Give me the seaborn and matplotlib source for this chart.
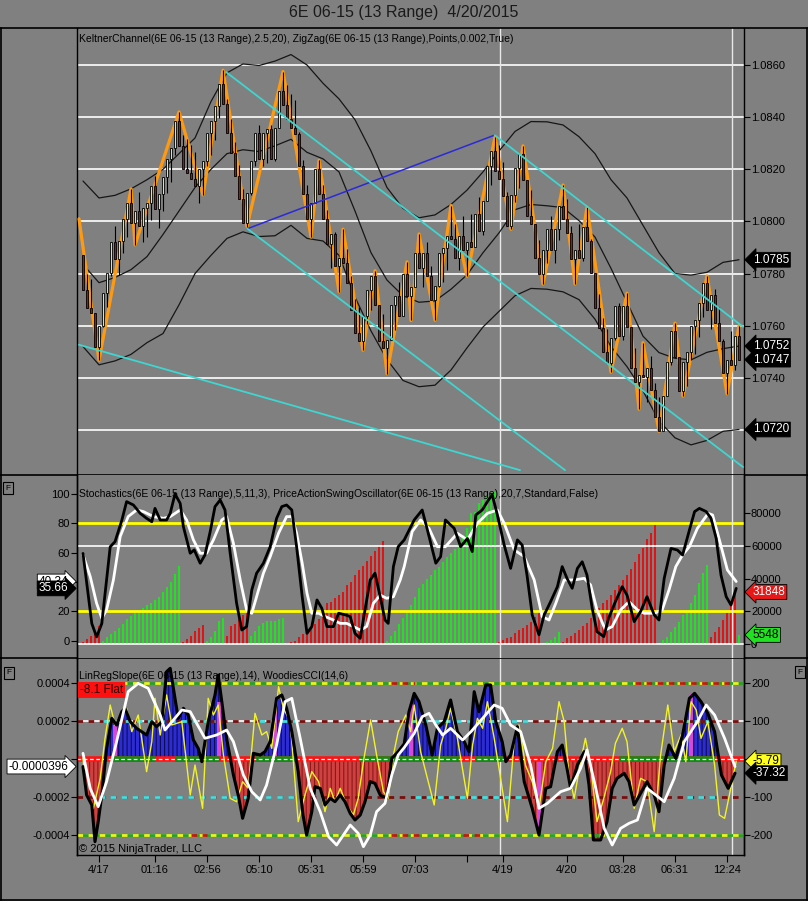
import numpy as np
import pandas as pd
import matplotlib
matplotlib.use('Agg')
import matplotlib.pyplot as plt
import seaborn as sns
from matplotlib.lines import Line2D

# ---------------- data ----------------
BASE = 1.07          # prices kept as pips above 1.0700
PIP = 0.0001
RANGE_PIPS = 13      # 13 range bars

first_open = 87.3
closes = [73.8, 66.8, 64.9, 52.0, 59.7, 72.6, 80.3, 92.0, 85.4, 92.4,
          101.0, 107.2, 99.5, 104.0, 98.2, 105.3, 107.2, 113.6, 104.6, 110.4,
          117.0, 123.8, 128.0, 138.6, 129.0, 120.0, 118.7, 116.2, 113.6, 120.0,
          123.2, 134.1, 138.6, 144.4, 152.7, 145.0, 134.1, 126.4, 117.4, 108.5,
          99.5, 111.0, 123.2, 134.1, 123.8, 134.1, 135.4, 123.8, 136.0, 150.0,
          144.5, 139.2, 136.0, 133.5, 121.3, 110.4, 100.8, 107.0, 120.0, 110.4,
          100.8, 91.5, 95.0, 83.0, 86.0, 84.0, 76.4, 66.0, 57.2, 54.0,
          63.6, 73.8, 79.0, 68.1, 54.0, 51.4, 54.6, 68.1, 71.3, 63.6,
          80.0, 71.5, 75.0, 87.9, 82.2, 87.9, 79.0, 70.0, 75.1, 87.9,
          89.9, 94.4, 93.1, 86.0, 94.4, 89.2, 92.0, 90.0, 103.0, 96.3,
          107.8, 121.3, 127.0, 119.4, 116.2, 109.7, 98.2, 110.0, 120.6, 126.0,
          116.0, 102.0, 99.0, 86.0, 80.0, 89.0, 97.0, 89.2, 97.0, 105.9,
          101.0, 95.7, 85.4, 89.0, 86.0, 98.0, 92.5, 80.2, 66.8, 59.1,
          50.1, 45.6, 55.2, 67.4, 55.9, 67.4, 59.5, 43.7, 38.6, 41.0,
          40.5, 43.7, 35.4, 25.1, 19.5, 33.0, 46.0, 58.0, 48.0, 35.0,
          46.0, 50.0, 59.7, 62.3, 68.7, 76.4, 66.1, 71.9, 61.0, 54.0,
          41.8, 46.9, 45.0, 55.9, 47.0]

zz_bars = [-1, 4, 12, 13, 24, 30, 35, 41, 50, 57, 59, 64, 65, 70, 73, 76, 81, 82, 84, 88,
           92, 96, 103, 107, 110, 115, 120, 123, 126, 132, 136, 139, 140, 144, 148, 150,
           156, 161, 164]
zz_pips = [101, 46.7, 112.5, 91, 142, 110.2, 158, 98, 157.5, 94, 123.4, 73, 97, 50.6, 81.1,
           41.6, 84.5, 62, 95.2, 62.1, 106.1, 79, 132.4, 97, 129, 76, 114, 76, 105.5, 42.2,
           72.5, 28, 53.5, 19.5, 61, 33, 79.1, 33.9, 60]

kc_bars = list(range(0, 165, 4))
kc_upper = [115.5, 109, 110, 112.5, 116, 120, 126, 132, 146, 157, 160.4, 159.8, 161.5, 164,
            160, 153, 147, 139, 127, 113, 105, 101.4, 102.5, 106.5, 112, 119, 127, 134.5,
            138.3, 138.2, 137, 132.5, 126, 116, 109, 98.5, 88, 80, 79.4, 80.5, 84.3, 85.3]
kc_mid = [83.5, 76.5, 78.5, 81.5, 86.5, 95, 104, 113, 120, 126, 127.5, 126.8, 129, 131.5,
          126.5, 124, 119, 104, 88, 77.5, 71.5, 69, 69.5, 74, 79.5, 88, 95.6, 104.5,
          106.5, 106, 105.3, 100.3, 94, 82, 69, 56, 49.7, 47.5, 46.9, 49.8, 51.2, 52.2]
kc_lower = [52, 45, 46.5, 49, 53.5, 57, 68, 80, 87, 93.5, 96, 94.2, 94.5, 98.5,
            93.5, 92.5, 87, 71, 58, 47, 39, 36.6, 37.2, 43, 51.5, 59.5, 65.5, 71.5,
            74.3, 74, 73, 70, 62.5, 52, 44.3, 35, 23.5, 17, 14.3, 16, 19.5, 20.2]

# drawn trend lines: (start bar, end bar), (start pips, end pips)
blue_bars, blue_pips = [41.1, 102.9], [97.2, 133.1]
cyan_bars = [[102.9, 165.0], [35.75, 165.0], [41.1, 120.5], [-1.0, 109.25]]
cyan_pips = [[133.1, 59.6], [157.3, 5.8], [97.2, 4.6], [52.7, 4.6]]

session_bars = [104.25, 162.25]

# stochastics (0-100)
stk_bars = [0.0, 2.2, 3.4, 4.7, 6.8, 8.0, 9.7, 10.9, 12.6, 14.3, 15.9, 17.2, 18.0, 19.3, 20.9,
            21.8, 23.0, 24.3, 25.1, 26.8, 27.8, 29.3, 30.5, 31.8, 33.0, 34.3, 35.5, 36.8, 38.4,
            39.7, 40.9, 42.2, 43.4, 45.1, 46.8, 48.4, 49.7, 50.9, 52.2, 53.4, 54.8, 56.0, 57.2,
            58.5, 59.7, 61.0, 62.6, 63.9, 65.6, 66.8, 68.0, 69.3, 70.5, 71.8, 73.0, 74.3, 75.5,
            76.3, 77.6, 78.8, 80.3, 82.8, 84.8, 86.0, 88.2, 89.4, 90.6, 92.8, 94.4, 96.1, 97.3,
            98.2, 99.8, 101.1, 102.3, 103.6, 105.3, 106.9, 108.6, 109.8, 111.0, 112.3, 114.0,
            115.3, 116.9, 118.6, 119.8, 121.0, 122.3, 123.6, 124.8, 126.0, 127.3, 128.5, 130.2,
            131.4, 133.1, 134.8, 136.0, 137.8, 139.4, 141.0, 142.8, 144.0, 145.3, 147.0, 148.6,
            149.9, 151.6, 152.9, 154.1, 155.8, 157.0, 158.3, 159.5, 160.8, 162.0, 163.3]
stk_vals = [59.5, 11.7, 2.6, 11.7, 64, 67.5, 82, 94.8, 92.5, 86.8, 83.4, 81.1, 90.2, 82.3, 82.3,
            86.8, 100, 93.6, 77.7, 59.6, 61.9, 52.8, 58.5, 74.4, 91.4, 95.9, 89.1, 59.6, 25.5,
            7.3, 9.6, 34.6, 46, 52.8, 64.1, 83.4, 91.4, 92.5, 89.1, 64.1, 30, 5, 9.6,
            27.8, 22.1, 9.6, 9.6, 18.7, 17.6, 16.4, 5, 1.6, 21, 41.4, 46, 30, 14.1,
            11.8, 50.5, 64.1, 68.7, 82.3, 89.1, 76.6, 52.8, 57.3, 82.3, 76.6, 64.1, 69.7, 60.7,
            85.7, 89.1, 94.8, 99.5, 85.7, 65.2, 49.3, 68.7, 65.2, 44.7, 17.6, 4,
            17.6, 26.6, 36.8, 50.5, 42.5, 35.7, 49.3, 53.8, 44.7, 22.1, 6.2, 2.8,
            15.3, 26.6, 36.8, 31.1, 13, 19.9, 30, 17.6, 14.1, 42.5, 62.9, 61.8,
            58.4, 75.4, 88, 90.2, 88, 83.4, 69.7, 44.7, 30, 24.3, 35.66]
std_bars = [0.0, 1.8, 3.4, 4.7, 5.9, 7.6, 9.3, 11.3, 13.4, 15.1, 17.6, 20.1, 21.8, 24.3, 25.9,
            27.6, 29.3, 30.9, 32.6, 34.7, 35.9, 37.6, 39.3, 40.9, 42.2, 43.4, 45.1, 46.8, 48.9,
            50.9, 52.2, 53.4, 54.8, 56.0, 57.2, 58.9, 60.6, 62.6, 64.3, 65.9, 67.6, 69.3, 70.9,
            72.6, 74.3, 75.9, 77.6, 79.3, 80.3, 82.3, 84.4, 86.5, 88.6, 90.6, 93.6, 96.1, 98.6,
            101.1, 103.6, 105.3, 107.8, 110.3, 112.8, 114.8, 116.5, 118.2, 120.3, 122.8, 125.3,
            126.9, 128.5, 130.6, 132.3, 134.4, 136.5, 138.6, 140.3, 142.8, 144.8, 146.5, 148.2,
            149.9, 151.6, 153.6, 156.3, 157.4, 159.1, 161.1, 163.3]
std_vals = [58.5, 43.8, 25.5, 15.3, 21, 41.4, 71, 84.6, 89.1, 88, 84.6, 83.4, 84.6, 89.1, 82.3,
            68.7, 59.6, 59.6, 68.7, 82.3, 84.6, 66.4, 41.4, 21, 18.7, 30, 46, 57.3, 73.3,
            84.6, 84.6, 73.3, 52.8, 32.3, 18.7, 18.7, 16.4, 14.1, 11.8, 11.8, 9.6, 7.3, 9.6,
            25.5, 31.1, 28.9, 30, 41.4, 50.5, 74.4, 82.3, 76.6, 64.1, 64.1, 73.2, 68.7, 80,
            86.8, 89.1, 80, 61.9, 57.3, 41.4, 16.4, 14.1, 25.5, 41.4, 41.4, 42.5,
            38, 21, 7.3, 9.6, 21, 26.6, 21, 18.7, 18.7, 21, 34.6, 50.5,
            58.5, 64.1, 76.6, 86.8, 85.7, 68.7, 48.2, 40.34]

# price action swing oscillator, thousands per bar (negative = down swing)
paso_k = [-1, -3, -5, -7, -11,
          2, 4, 6, 8, 10, 12, 15, 17, 19, 21, 22, 24, 25, 27, 29, 32, 35, 38, 43, 48,
          -1.5, -3, -5, -8, -9.5, -11.5,
          2, 4, 8, 14, 16,
          -5, -11, -12, -15, -18, -20,
          5, 8, 11, 13, 14, 14, 14, 15, 16,
          -0.5, -1, -2, -4, -6, -8, -10, -12, -15, -18, -25, -26, -28, -30, -32, -36, -38,
          -42, -45, -48, -51, -54, -57, -60, -63,
          2, 5, 8, 12, 16, 19, 24, 29, 34, 37, 40, 42, 45, 47, 50, 53, 56, 58, 63, 67, 71,
          80, 81, 86, 88, 91, 92, 93,
          -1.4, -2.4, -3.5, -4.5, -6.6, -8.6, -9.6, -11.7, -13.7, -16.8, -18.9,
          0.5, 1.4, 2.4, 4.5, 7.6,
          -1.5, -3.5, -5, -6.5, -8.5, -11, -13, -16, -19, -22, -25, -27, -30, -33, -36, -39,
          -42, -46, -50, -55, -59, -64, -68, -73,
          0.5, 2.4, 4.5, 7.6, 10.7, 13.7, 17.8, 20.9, 25, 30.1, 37.2, 43.4, 48.5,
          -4.5, -7.6, -10.7, -14.8, -18.9, -26, -31.848,
          5.548]

# Woodies CCI panel (CCI units, slope = cci / 5e5)
cci_bars = [0.0, 0.9, 2.2, 3.0, 3.8, 4.7, 5.9, 7.2, 8.4, 9.7, 10.5, 11.8, 13.4, 15.9, 17.2,
            18.4, 19.7, 20.9, 21.8, 22.6, 23.8, 25.1, 26.3, 27.6, 28.8, 29.7, 31.3, 33.0,
            33.8, 34.7, 35.9, 37.6, 38.8, 39.9, 41.3, 42.6, 44.3, 45.5, 46.8, 48.4, 49.7,
            50.9, 52.2, 53.8, 55.0, 55.9, 57.2, 58.0, 59.3, 60.5, 61.8, 63.0, 64.3, 65.5,
            66.8, 68.0, 69.3, 70.5, 71.8, 73.0, 74.3, 75.9, 77.2, 78.8, 80.3, 81.5, 82.8,
            84.0, 85.7, 87.3, 88.6, 90.3, 91.9, 93.6, 95.3, 96.5, 97.8, 99.0, 100.7, 101.9,
            103.2, 104.8, 105.7, 106.9, 108.6, 110.3, 112.3, 114.0, 115.7, 116.9, 118.6,
            119.8, 121.0, 121.9, 123.6, 125.3, 126.5, 127.6, 129.4, 131.0, 132.3, 133.5,
            135.3, 136.5, 137.8, 139.4, 141.0, 142.8, 144.0, 145.3, 146.5, 148.2, 149.9,
            151.6, 152.9, 154.5, 156.2, 157.9, 159.6, 161.3, 163.0]
cci_vals = [-20, -94.7, -121, -217.5, -165, -94.7, 28, 107, 89.5, 124.6, 133.4, 98.3, 80.8,
            63.2, 98.3, 85.1, 98.3, 229.8, 238.6, 186, 107, 133.4, 115.8, 50, 28, -7, 98.3,
            168.5, 221, 151, 54.4, -42, -94.7, -156, -103.5, 15, 10.5, 19.3, 45.6, 159.7,
            168.5, 133.4, 72, -33.3, -147.4, -200, -138.6, -72.8, -77.2, -121, -103.5,
            -112.3, -94.7, -112.3, -143, -160.5, -147.4, -112.3, -59.6, -64, -94.7, -103.5,
            1.8, 19.3, 40, 124.6, 172.8, 150.9, 89.5, 10.5, 80.8, 98.3, 155.3, 72, 45.6,
            19.3, 177.2, 124.6, 194.8, 194.8, 98.3, 45.6, -7, 10.5, 85.1, -59.6, -129.8,
            -200, -77.2, -72.8, 19.3, 36.8, -24.5, -77.2, -15.8, 19.3, -68.4, -213, -213,
            -164.9, -77.2, -50.9, -37.7, -59.6, -121, -90.3, -59.6, -94.7, -138.6, -15.8,
            36.8, 1.8, 63.2, 159.7, 172.8, 150.9, 120.2, 72, -42, -77.2, -37.32]
lrs_bars = [0.0, 1.8, 3.8, 5.9, 8.4, 11.3, 13.8, 16.3, 19.3, 20.5, 22.6, 24.7, 26.8, 28.4,
            30.5, 33.4, 35.9, 37.6, 40.1, 42.2, 44.3, 45.9, 48.4, 50.5, 52.2, 54.3, 56.8,
            59.3, 61.4, 63.4, 65.1, 66.8, 68.8, 70.1, 71.8, 73.4, 75.5, 77.2, 78.8, 80.3,
            82.8, 84.8, 86.5, 88.2, 89.9, 91.9, 94.9, 97.0, 99.9, 102.8, 104.8, 106.9, 109.4,
            111.9, 114.0, 116.1, 119.4, 121.9, 124.4, 126.0, 128.2, 130.3, 132.3, 134.4,
            136.5, 138.6, 141.0, 143.2, 145.3, 147.8, 150.3, 153.6, 155.8, 157.9, 160.4, 163.0]
lrs_vals = [15, -77.2, -125.4, -59.6, 45.6, 177.2, 199.1, 186, 115.8, 76.3, 102.6, 129, 124.6,
            94, 54.4, 63.2, 76.3, 45.6, -42, -86, -107.9, -68.4, 36.8, 150.9, 159.7, 54.4,
            -77.2, -138.6, -204.4, -226.3, -200, -173.7, -195.6, -230.7, -200, -138.6, -116.7,
            -42, 10.5, 30, 67.6, 111.4, 120.2, 89.5, 63.2, 80.8, 50, 72, 107, 142.1, 133.4,
            89.5, 72, -15.8, -129.8, -116.7, -86, -77.2, -24.5, 23.7, -77.2, -182.5, -226.3,
            -182.5, -169.3, -160.5, -77.2, -94.7, -112.3, -50.9, 45.6, 98.3, 142.1, 115.8,
            54.4, -19.8]
turbo_bars = [0.0, 0.9, 2.6, 4.3, 5.5, 6.8, 8.0, 9.3, 10.9, 12.2, 13.8, 15.9, 17.2, 18.0, 19.3,
              20.9, 22.2, 24.7, 26.8, 28.0, 29.9, 31.3, 32.6, 33.8, 35.1, 36.8, 38.4, 39.9,
              41.3, 43.0, 44.7, 45.9, 47.2, 48.9, 50.1, 51.8, 53.8, 55.5, 57.2, 58.9, 60.5,
              61.8, 63.0, 64.3, 65.9, 67.6, 68.8, 70.1, 71.9, 73.4, 75.1, 76.3, 77.6, 78.8,
              80.7, 81.9, 82.8, 84.4, 86.1, 87.8, 89.4, 90.7, 91.9, 93.6, 96.1, 97.4, 98.6,
              99.9, 101.1, 102.8, 104.4, 106.1, 107.8, 109.0, 110.6, 112.3, 114.0, 115.7,
              117.4, 119.0, 120.3, 121.5, 122.8, 124.4, 125.6, 126.9, 128.5, 130.2, 131.9,
              133.1, 134.8, 136.0, 137.8, 139.4, 141.0, 142.8, 144.4, 146.2, 147.8, 149.5,
              150.7, 152.0, 153.3, 154.5, 156.2, 157.9, 159.1, 160.4, 161.6, 163.3]
turbo_vals = [1.8, -94.7, -129.8, -50.9, 54.4, 142.1, 89.5, 115.8, 133.4, 72, 115.8, -33.3,
              45.6, 159.7, 63.2, 168.5, 89.5, 98.3, -94.7, -15.8, -129.8, 159.7, 115.8, 142.1,
              10.5, -103.5, -112.3, -59.6, -77.2, 120.2, 63.2, 72, 28, 190.4, 133.4, 98.3,
              -164.9, -94.7, -33.3, -59.6, -138.6, -77.2, -112.3, -77.2, -121, -147.4, -103.5,
              -7, 102.6, 10.5, -86, -103.5, 10.5, 72, 115.8, 72, 142.1, 19.3, -50.9, -121,
              36.8, 80.8, 133.4, 54.4, -103.5, 36.8, 107, 80.8, 150.9, 54.4, -50.9, -164.9,
              45.6, 89.5, -15.8, -59.6, -129.8, -7, 28, 150.9, 98.3, -42, -103.5, -7, 54.4,
              -15.8, -164.9, -103.5, -33.3, 41.2, 80.8, 45.6, -129.8, -50.9, -59.6, -191.2,
              10.5, 142.1, 19.3, 63.2, -7, 150.9, 129, 54.4, 98.3, -15.8, -147.4, -156.1,
              -94.7, -5.79]
magenta_bars = [8, 34, 48, 82, 114, 152]
magenta_vals = [90, 150, 140, 150, -190, 170]
zero_green = [(7, 18), (23, 34), (43, 53), (69, 94), (98, 105), (134, 158)]
cyan_up = [(5, 33), (44, 53), (82, 112), (150, 157)]
cyan_dn = [(4, 53), (83, 110), (151, 158)]
red_200_up = [(77, 83), (138, 163)]
red_200_dn = [(27, 31), (77, 84), (95, 100)]

tick_bars = [4, 18, 31, 44, 57, 70, 83, 96, 105, 121, 135, 148, 161]
tick_text = ['4/17', '01:16', '02:56', '05:10', '05:31', '05:59', '07:03', '',
             '4/19', '4/20', '03:28', '06:31', '12:24']

# ---------------- style ----------------
W, H = 808, 901
BG = '#808080'
UP, DN = '#c4ebbf', '#a81212'

sns.set_theme(style='ticks', rc={
    'figure.facecolor': BG, 'axes.facecolor': BG, 'savefig.facecolor': BG,
    'axes.edgecolor': 'black', 'axes.linewidth': 1.0,
    'xtick.color': 'black', 'ytick.color': 'black',
    'xtick.labelsize': 8, 'ytick.labelsize': 8, 'text.color': 'black',
    'hatch.linewidth': 0.8,
})
plt.rcParams['font.family'] = ['Liberation Sans', 'DejaVu Sans']

fig = plt.figure(figsize=(W / 100, H / 100), dpi=100)


def px_box(l, t, r, b):
    return [l / W, 1 - b / H, (r - l) / W, (b - t) / H]


ax_p = fig.add_axes(px_box(77, 28, 744, 475))
ax_s = fig.add_axes(px_box(77, 475, 744, 658))
ax_c = fig.add_axes(px_box(77, 658, 744, 855))
XL = (-1.5, 165.25)

for ax in (ax_p, ax_s, ax_c):
    ax.set_xlim(*XL)
    ax.spines['top'].set_visible(False)
    ax.spines['bottom'].set_visible(False)

# frame lines across the whole window
for yy in (27.5, 475, 658, 899.5):
    fig.add_artist(Line2D([0, 1], [1 - yy / H] * 2, color='black', lw=1.2))
for xx in (1.0, 806.5):
    fig.add_artist(Line2D([xx / W] * 2, [1 - 27.5 / H, 1 - 899.5 / H], color='black', lw=1.2))


def tag(ax, y, text, fc, tc, side='right', trans=None):
    trans = trans if trans is not None else ax.get_yaxis_transform()
    if side == 'right':
        x, ha, style = 1.013, 'left', 'larrow,pad=0.12'
    else:
        x, ha, style = -0.013, 'right', 'rarrow,pad=0.12'
    ax.text(x, y, text, transform=trans, ha=ha, va='center', fontsize=8.5, color=tc,
            bbox=dict(boxstyle=style, fc=fc, ec='black', lw=0.6), zorder=20, clip_on=False)


# ---------------- price panel ----------------
px = lambda v: BASE + np.asarray(v, dtype=float) * PIP

df = pd.DataFrame({'bar': np.arange(len(closes)), 'close': closes})
df['open'] = [first_open] + closes[:-1]
up = df['close'] > df['open']
df['high'] = np.where(up, df['close'], np.maximum(df['open'], df['close'] + RANGE_PIPS))
df['low'] = np.where(up, np.minimum(df['open'], df['close'] - RANGE_PIPS), df['close'])

ax_p.set_ylim(1.070274, 1.087419)
grid_prices = np.arange(1.0720, 1.08601, 0.002)
for g in grid_prices:
    ax_p.axhline(g, color='white', lw=1.2, zorder=1)
for sb in session_bars:
    ax_p.axvline(sb, color='#e8e8e8', lw=1, zorder=1)

kc = pd.DataFrame({'bar': kc_bars, 'upper': kc_upper, 'mid': kc_mid, 'lower': kc_lower})
for col in ('upper', 'mid', 'lower'):
    sns.lineplot(x=kc['bar'], y=px(kc[col]), ax=ax_p, color='#161616', linewidth=0.9,
                 estimator=None, sort=False, zorder=2)

sns.lineplot(x=zz_bars, y=px(zz_pips), ax=ax_p, color='#ff9a10', linewidth=2.3,
             estimator=None, sort=False, zorder=3)

ax_p.vlines(df['bar'], px(df['low']), px(df['high']), color='black', lw=0.8, zorder=4)
ax_p.bar(df['bar'], px(df['close']) - px(df['open']), bottom=px(df['open']), width=0.62,
         color=np.where(up, UP, DN), edgecolor='black', linewidth=0.6, zorder=5)

ax_p.plot(blue_bars, px(blue_pips), color='#2a2ad8', lw=1.1, zorder=6)
for cb, cp in zip(cyan_bars, cyan_pips):
    ax_p.plot(cb, px(cp), color='#3ed6d0', lw=1.3, zorder=6)

ax_p.yaxis.tick_right()
ax_p.set_yticks(grid_prices)
# the lowest level sits under the 1.0720 price flag, as on the original
ax_p.set_yticklabels(['' if i == 0 else f'{g:.4f}' for i, g in enumerate(grid_prices)])
ax_p.tick_params(axis='y', direction='out', length=4, width=0.8, pad=1)
ax_p.set_xticks([])
ax_p.set_xlabel('')
ax_p.set_ylabel('')

tag(ax_p, px(kc_upper[-1]), f'{px(kc_upper[-1]):.4f}', 'black', 'white')
tag(ax_p, px(kc_mid[-1]), f'{px(kc_mid[-1]):.4f}', 'black', 'white')
tag(ax_p, px(closes[-1]), f'{px(closes[-1]):.4f}', 'black', 'white')
tag(ax_p, px(kc_lower[-1]), f'{px(kc_lower[-1]):.4f}', 'black', 'white')

fig.text(79 / W, 1 - 39 / H,
         'KeltnerChannel(6E 06-15 (13 Range),2.5,20), ZigZag(6E 06-15 (13 Range),Points,0.002,True)',
         fontsize=7.5, va='center', ha='left')

# ---------------- stochastics / swing oscillator panel ----------------
ax_s2 = ax_s.twinx()
ax_s2.set_xlim(*XL)
ax_s.set_zorder(3)
ax_s2.set_zorder(2)
ax_s.patch.set_visible(False)
ax_s2.patch.set_visible(True)
ax_s2.patch.set_facecolor(BG)
for sp in ('top', 'bottom'):
    ax_s2.spines[sp].set_visible(False)
ax_s.yaxis.tick_left()

ax_s.set_ylim(-11.8, 112.95)
ax_s2.set_ylim(-8570, 103440)

paso = np.array(paso_k) * 1000
ax_s2.bar(np.arange(len(paso)), np.abs(paso), width=0.5, linewidth=0,
          color=np.where(paso > 0, '#22e022', '#e01414'), zorder=2)
for lvl in (60000, 0):
    ax_s2.axhline(lvl, color='white', lw=1.2, zorder=3)
for lvl in (80, 20):
    ax_s.axhline(lvl, color='#ffff00', lw=2, zorder=2)
for sb in session_bars:
    ax_s.axvline(sb, color='#e8e8e8', lw=1, zorder=2)

sns.lineplot(x=std_bars, y=std_vals, ax=ax_s, color='white', linewidth=2,
             estimator=None, sort=False, zorder=4)
sns.lineplot(x=stk_bars, y=stk_vals, ax=ax_s, color='black', linewidth=2,
             estimator=None, sort=False, zorder=5)

ax_s.set_yticks([0, 20, 40, 60, 80, 100])
ax_s.set_yticklabels(['0', '20', '', '60', '80', '100'])
ax_s.tick_params(axis='y', direction='out', length=4, width=0.8, pad=1)
ax_s2.set_yticks([0, 20000, 40000, 60000, 80000])
ax_s2.set_yticklabels(['0', '20000', '40000', '60000', '80000'])
ax_s2.tick_params(axis='y', direction='out', length=4, width=0.8, pad=1)
for a in (ax_s, ax_s2):
    a.set_xticks([])
    a.set_xlabel('')
    a.set_ylabel('')

tag(ax_s, std_vals[-1], f'{std_vals[-1]:.2f}', 'white', 'black', side='left')
tag(ax_s, stk_vals[-1], f'{stk_vals[-1]:.2f}', 'black', 'white', side='left')
tag(ax_s2, abs(paso[-2]), f'{abs(paso[-2]):.0f}', '#e81818', 'white')
tag(ax_s2, abs(paso[-1]), f'{abs(paso[-1]):.0f}', '#22e022', 'black')

fig.text(79 / W, 1 - 494 / H,
         'Stochastics(6E 06-15 (13 Range),5,11,3), PriceActionSwingOscillator(6E 06-15 (13 Range),20,7,Standard,False)',
         fontsize=7.5, va='center', ha='left')

# ---------------- LinRegSlope / Woodies CCI panel ----------------
ax_c2 = ax_c.twinx()
ax_c2.set_xlim(*XL)
for sp in ('top', 'bottom'):
    ax_c2.spines[sp].set_visible(False)

ax_c.set_ylim(-252.6, 265.8)
ax_c.spines['bottom'].set_visible(True)
for lvl in (100, -200):
    ax_c.axhline(lvl, color='white', lw=1.2, zorder=1)
for sb in session_bars:
    ax_c.axvline(sb, color='#e8e8e8', lw=1, zorder=1)

cb = np.array(cci_bars)
cv = np.array(cci_vals)
ax_c.fill_between(cb, 0, cv, where=cv >= 0, interpolate=True, facecolor='#2c2cd2',
                  edgecolor='#0c0c55', hatch='||||', linewidth=0, zorder=2)
ax_c.fill_between(cb, 0, cv, where=cv <= 0, interpolate=True, facecolor='#cf4040',
                  edgecolor='#8a1818', hatch='||||', linewidth=0, zorder=2)
ax_c.bar(magenta_bars, magenta_vals, width=0.9, linewidth=0, color='#d848d8', zorder=2.5)

# level lines
for lvl, reds in ((200, red_200_up), (-200, red_200_dn)):
    ax_c.plot(XL, [lvl, lvl], color='#2aa02a', lw=2, zorder=3, solid_capstyle='butt')
    ax_c.plot(XL, [lvl, lvl], color='#f0f020', lw=2, ls=(0, (2, 2)), zorder=3.1)
    for a, b in reds:
        ax_c.plot([a, b], [lvl, lvl], color='#c01818', lw=2, ls=(0, (2, 2)), zorder=3.2)
for lvl, cy in ((100, cyan_up), (-100, cyan_dn)):
    ax_c.plot(XL, [lvl, lvl], color='#7a0e0e', lw=2, ls=(0, (2, 2)), zorder=3)
    for a, b in cy:
        ax_c.plot([a, b], [lvl, lvl], color='#40e0e0', lw=2, ls=(0, (2, 2)), zorder=3.1)

ax_c.plot(XL, [0, 0], color='#ff1212', lw=4, solid_capstyle='butt', zorder=3)
for a, b in zero_green:
    ax_c.plot([a, b], [0, 0], color='#138a13', lw=4, solid_capstyle='butt', zorder=3.1)
ax_c.plot(XL, [0, 0], color='white', lw=0.9, ls=(0, (3, 2)), zorder=3.2)

sns.lineplot(x=turbo_bars, y=turbo_vals, ax=ax_c, color='#f2f22a', linewidth=1,
             estimator=None, sort=False, zorder=4)
sns.lineplot(x=cci_bars, y=cci_vals, ax=ax_c, color='black', linewidth=2.2,
             estimator=None, sort=False, zorder=5)
sns.lineplot(x=lrs_bars, y=lrs_vals, ax=ax_c, color='white', linewidth=2,
             estimator=None, sort=False, zorder=6)

ax_c.yaxis.tick_right()
ax_c.set_yticks([200, 100, 0, -100, -200])
ax_c.set_yticklabels(['200', '100', '', '-100', '-200'])
ax_c.tick_params(axis='y', direction='out', length=4, width=0.8, pad=1)
ax_c.set_xticks(tick_bars)
ax_c.set_xticklabels(tick_text)
ax_c.tick_params(axis='x', direction='out', length=5, width=0.8, pad=2)
ax_c.set_xlabel('')
ax_c.set_ylabel('')

ax_c2.set_ylim(-252.6 / 5e5, 265.8 / 5e5)
ax_c2.yaxis.tick_left()
ax_c2.set_yticks([0.0004, 0.0002, 0, -0.0002, -0.0004])
ax_c2.set_yticklabels(['0.0004', '0.0002', '', '-0.0002', '-0.0004'])
ax_c2.tick_params(axis='y', direction='out', length=4, width=0.8, pad=1)

tag(ax_c2, lrs_vals[-1] / 5e5, f'{lrs_vals[-1] / 5e5:.7f}', 'white', 'black', side='left')
tag(ax_c2, turbo_vals[-1], f'{turbo_vals[-1]:.2f}', '#ffff20', 'black',
    trans=ax_c.get_yaxis_transform())
tag(ax_c2, cci_vals[-1], f'{cci_vals[-1]:.2f}', 'black', 'white',
    trans=ax_c.get_yaxis_transform())

fig.text(79 / W, 1 - 676 / H, 'LinRegSlope(6E 06-15 (13 Range),14), WoodiesCCI(14,6)',
         fontsize=7.5, va='center', ha='left')
fig.text(80 / W, 1 - 690 / H, '-8.1 Flat', fontsize=8.5, va='center', ha='left',
         color='#2a0000', bbox=dict(boxstyle='square,pad=0.15', fc='#ff1010', ec='none'))
fig.text(79 / W, 1 - 849 / H, '\u00a9 2015 NinjaTrader, LLC', fontsize=8, va='center', ha='left')

# little "F" boxes
for fx, fy in ((8, 488), (9, 673), (800, 672)):
    fig.text(fx / W, 1 - fy / H, 'F', fontsize=6, ha='center', va='center',
             bbox=dict(boxstyle='square,pad=0.3', fc='none', ec='black', lw=0.8))

fig.text(404 / W, 1 - 13 / H, '6E 06-15 (13 Range)  4/20/2015', fontsize=11.5,
         ha='center', va='center', color='#1a1a1a')

fig.savefig('out.png', dpi=100, facecolor=BG)
